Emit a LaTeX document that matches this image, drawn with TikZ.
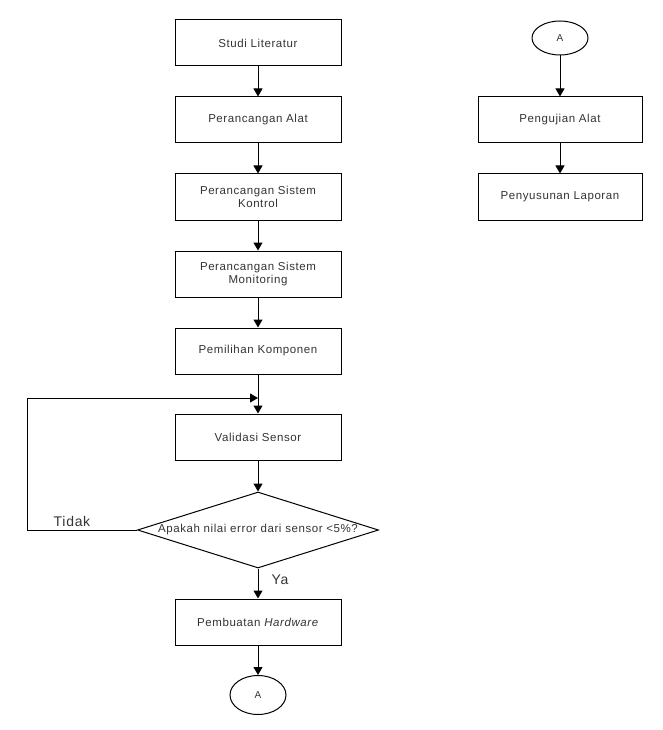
\documentclass[tikz,border=0pt]{standalone}
\usepackage{fontspec}
\setmainfont{Liberation Sans}[LetterSpace=5]
\usetikzlibrary{arrows.meta,shapes.geometric}
\tikzset{
  proc/.style={draw=black, line width=1pt, rectangle, minimum width=166pt, minimum height=46pt, inner sep=2pt, align=center, font=\fontsize{11.5}{13.5}\selectfont, text=black!80},
  conn/.style={draw=black, line width=1pt, ellipse, minimum width=56pt, inner sep=0pt, font=\fontsize{10}{12}\selectfont, text=black!80},
  dec/.style={draw=black, line width=1pt, diamond, aspect=3.16, minimum width=241pt, minimum height=76pt, inner sep=0pt, font=\fontsize{11.5}{13.5}\selectfont, text=black!80},
  arr/.style={draw=black, line width=1pt, -{Triangle[width=9pt,length=8pt]}},
  lbl/.style={font=\fontsize{14}{16}\selectfont, text=black!80, inner sep=0pt}
}
\begin{document}
\begin{tikzpicture}[x=1pt,y=-1pt]
\useasboundingbox (0,0) rectangle (663,730);
\node[proc] (s1) at (258,43) {Studi Literatur};
\node[proc] (s2) at (258,120) {Perancangan Alat};
\node[proc] (s3) at (258,197) {Perancangan Sistem\\Kontrol};
\node[proc] (s4) at (258,274) {Perancangan Sistem\\Monitoring};
\node[proc] (s5) at (258,351) {Pemilihan Komponen};
\node[proc] (s6) at (258,437) {Validasi Sensor};
\node[dec] (d) at (258,530) {Apakah nilai error dari sensor <5\%?};
\node[proc] (s7) at (258,622) {Pembuatan \textit{Hardware}};
\node[conn, minimum height=39pt] (a1) at (258,695) {A};
\node[conn, minimum height=34pt] (a2) at (560,38) {A};
\node[proc, minimum width=164pt] (r1) at (560,120) {Pengujian Alat};
\node[proc, minimum width=164pt] (r2) at (560,197) {Penyusunan Laporan};
\coordinate (m) at (258,398);
\coordinate (lc) at (27,530);
\draw[arr] (s1) -- (s2);
\draw[arr] (s2) -- (s3);
\draw[arr] (s3) -- (s4);
\draw[arr] (s4) -- (s5);
\draw[arr] (s5) -- (s6);
\draw[arr] (s6) -- (d);
\draw[arr] (d) -- (s7);
\draw[arr] (s7) -- (a1);
\draw[arr] (a2) -- (r1);
\draw[arr] (r1) -- (r2);
\draw[arr] (d.west) -- (lc) |- (m);
\node[lbl] (t) at (72,521) {Tidak};
\node[lbl] (y) at (280,580) {Ya};
\end{tikzpicture}
\end{document}
